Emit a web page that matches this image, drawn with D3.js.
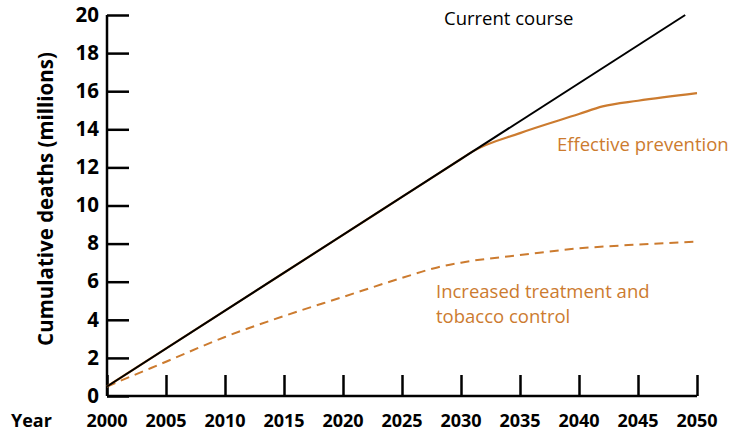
<!DOCTYPE html>
<html>
<head>
<meta charset="utf-8">
<script src="https://cdn.jsdelivr.net/npm/d3@7"></script>
<style>
  body { margin: 0; background: #fff; }
  text { font-family: "Open Sans", "Noto Sans", sans-serif; }
</style>
</head>
<body>
<div id="chart"></div>
<script>
// data
var currentYears = [2000, 2049];
var currentValues = [0.5, 20];

var preventionYears = [2000, 2010, 2020, 2025, 2030, 2031, 2035, 2040, 2042, 2045, 2050];
var preventionValues = [0.5, 4.48, 8.46, 10.45, 12.44, 12.84, 13.8, 14.8, 15.2, 15.5, 15.9];

var treatmentYears = [2000, 2005, 2010, 2015, 2020, 2025, 2028, 2030, 2035, 2040, 2045, 2050];
var treatmentValues = [0.5, 1.8, 3.1, 4.2, 5.2, 6.2, 6.75, 7.0, 7.4, 7.75, 7.95, 8.1];

var xTicks = [2000, 2005, 2010, 2015, 2020, 2025, 2030, 2035, 2040, 2045, 2050];
var yTicks = [0, 2, 4, 6, 8, 10, 12, 14, 16, 18, 20];

var orange = "#cc7b2f";

var margin = {top: 15, right: 36, bottom: 36, left: 107};
var width = 733 - margin.left - margin.right;
var height = 432 - margin.top - margin.bottom;

var svg = d3.select("#chart").append("svg")
    .attr("width", 733)
    .attr("height", 432);

var g = svg.append("g")
    .attr("transform", "translate(" + margin.left + "," + margin.top + ")");

var x = d3.scaleLinear().domain([2000, 2050]).range([0, width]);
var y = d3.scaleLinear().domain([0, 20]).range([height, 0]);

// y axis: ticks point inward
var yAxis = g.append("g")
    .call(d3.axisRight(y).tickValues(yTicks).tickSize(22).tickFormat(""));
yAxis.select(".domain").remove();
yAxis.selectAll(".tick line").attr("stroke", "#000").attr("stroke-width", 2.5);

g.selectAll(".ylab")
    .data(yTicks)
    .enter().append("text")
    .attr("x", -8)
    .attr("y", function(d) { return y(d); })
    .attr("dy", "0.33em")
    .attr("text-anchor", "end")
    .style("font-size", "20.5px")
    .style("font-weight", "bold")
    .text(function(d) { return d; });

// x axis: ticks point up
var xAxis = g.append("g")
    .attr("transform", "translate(0," + height + ")")
    .call(d3.axisTop(x).tickValues(xTicks).tickSize(21).tickFormat(""));
xAxis.select(".domain").remove();
xAxis.selectAll(".tick line").attr("stroke", "#000").attr("stroke-width", 2.5);

g.selectAll(".xlab")
    .data(xTicks)
    .enter().append("text")
    .attr("x", function(d) { return x(d); })
    .attr("y", height + 31)
    .attr("text-anchor", "middle")
    .style("font-size", "18px")
    .style("font-weight", "bold")
    .text(function(d) { return d; });

// axis lines
g.append("line")
    .attr("x1", 0).attr("x2", 0)
    .attr("y1", y(20)).attr("y2", height)
    .attr("stroke", "#000").attr("stroke-width", 2.5);
g.append("line")
    .attr("x1", 0).attr("x2", x(2050))
    .attr("y1", height).attr("y2", height)
    .attr("stroke", "#000").attr("stroke-width", 2.5);

svg.append("text")
    .attr("x", 11)
    .attr("y", height + margin.top + 31)
    .style("font-size", "18px")
    .style("font-weight", "bold")
    .text("Year");

svg.append("text")
    .attr("transform", "translate(53,199) rotate(-90)")
    .attr("text-anchor", "middle")
    .style("font-size", "20.5px")
    .style("font-weight", "bold")
    .text("Cumulative deaths (millions)");

function series(xs, ys) {
    return xs.map(function(d, i) { return [d, ys[i]]; });
}

var line = d3.line()
    .x(function(d) { return x(d[0]); })
    .y(function(d) { return y(d[1]); })
    .curve(d3.curveMonotoneX);

g.append("path")
    .datum(series(treatmentYears, treatmentValues))
    .attr("fill", "none")
    .attr("stroke", orange)
    .attr("stroke-width", 2)
    .attr("stroke-dasharray", "9,6")
    .attr("d", line);

g.append("path")
    .datum(series(preventionYears, preventionValues))
    .attr("fill", "none")
    .attr("stroke", orange)
    .attr("stroke-width", 2.2)
    .attr("d", line);

g.append("path")
    .datum(series(currentYears, currentValues))
    .attr("fill", "none")
    .attr("stroke", "#000")
    .attr("stroke-width", 2)
    .attr("d", line);

// series labels
svg.append("text")
    .attr("x", 444).attr("y", 25)
    .style("font-size", "18.5px")
    .text("Current course");

svg.append("text")
    .attr("x", 557).attr("y", 151)
    .style("font-size", "18.5px")
    .attr("fill", orange)
    .text("Effective prevention");

svg.append("text")
    .attr("x", 436).attr("y", 298)
    .style("font-size", "18.5px")
    .attr("fill", orange)
    .text("Increased treatment and");

svg.append("text")
    .attr("x", 436).attr("y", 323)
    .style("font-size", "18.5px")
    .attr("fill", orange)
    .text("tobacco control");
</script>
</body>
</html>
